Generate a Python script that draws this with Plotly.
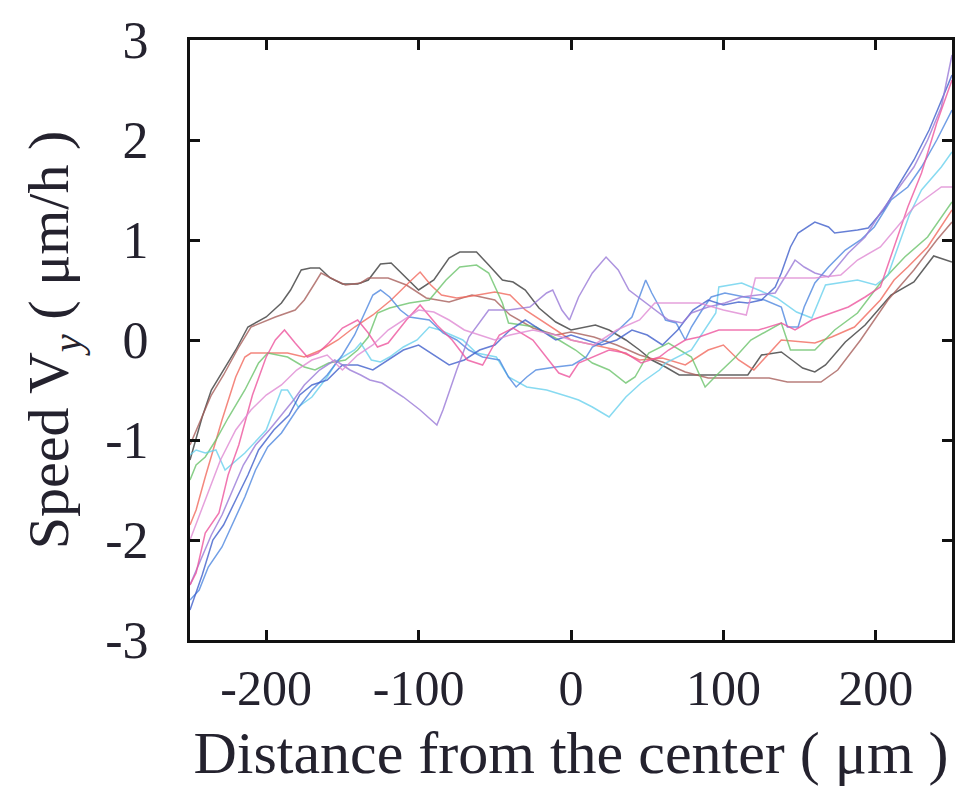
import plotly.graph_objects as go

# ---- data ----
black_x = [-250,-242,-236,-229,-220,-212,-200,-190,-184,-177,-171,-165,-158,-150,-140,-133,-125,-118,-110,-100,-90,-80,-73,-62,-54,-45,-38,-30,-21,-10,0,10,16,25,36,45,53,62,71,85,100,116,125,138,145,152,160,167,180,193,210,225,238,250]
black_y = [-1.2,-0.77,-0.5,-0.33,-0.1,0.13,0.23,0.37,0.5,0.7,0.72,0.72,0.62,0.56,0.56,0.6,0.76,0.77,0.65,0.5,0.6,0.82,0.88,0.88,0.75,0.6,0.58,0.5,0.32,0.18,0.1,0.13,0.15,0.1,0.0,-0.1,-0.2,-0.27,-0.35,-0.35,-0.35,-0.35,-0.15,-0.12,-0.2,-0.28,-0.32,-0.25,-0.02,0.15,0.45,0.58,0.84,0.78]

brown_x = [-250,-243,-236,-228,-218,-210,-194,-181,-175,-168,-164,-155,-148,-138,-133,-120,-108,-95,-80,-65,-50,-40,-25,-10,0,15,30,45,60,75,90,110,130,142,164,175,190,208,225,240,250]
brown_y = [-1.05,-0.8,-0.55,-0.35,-0.07,0.13,0.23,0.3,0.4,0.57,0.67,0.6,0.55,0.57,0.62,0.62,0.55,0.42,0.38,0.45,0.4,0.25,0.12,0.05,0.08,0.03,-0.05,-0.15,-0.22,-0.32,-0.38,-0.38,-0.38,-0.42,-0.42,-0.3,0.0,0.4,0.7,1.0,1.18]

red_x = [-250,-246,-240,-233,-229,-220,-214,-210,-186,-175,-164,-153,-142,-130,-118,-106,-99,-92,-85,-75,-65,-50,-40,-30,-15,0,15,30,45,60,75,90,100,110,120,138,160,171,186,195,203,212,221,234,250]
red_y = [-1.85,-1.7,-1.37,-1.0,-0.8,-0.37,-0.17,-0.13,-0.13,-0.17,-0.1,0.0,0.13,0.25,0.4,0.58,0.68,0.55,0.45,0.42,0.44,0.48,0.45,0.3,0.15,0.0,-0.05,-0.1,-0.2,-0.18,-0.25,-0.1,-0.05,-0.2,-0.3,0.0,-0.03,0.03,0.13,0.27,0.4,0.6,0.73,0.93,1.3]

green_x = [-250,-246,-240,-233,-225,-214,-205,-199,-186,-175,-168,-159,-148,-140,-133,-127,-119,-106,-93,-82,-73,-62,-54,-45,-41,-23,-8,3,14,25,36,42,51,64,79,88,97,108,118,130,138,144,160,173,188,203,219,234,250]
green_y = [-1.4,-1.25,-1.17,-1.0,-0.78,-0.5,-0.23,-0.13,-0.17,-0.27,-0.3,-0.23,-0.2,-0.1,0.03,0.27,0.32,0.37,0.4,0.6,0.73,0.75,0.67,0.37,0.17,0.13,0.0,-0.1,-0.23,-0.3,-0.43,-0.37,-0.13,-0.03,-0.17,-0.47,-0.33,-0.17,0.0,0.1,0.17,-0.1,-0.1,0.1,0.27,0.57,0.83,1.03,1.38]

cyan_x = [-250,-246,-240,-233,-227,-214,-200,-190,-186,-179,-170,-160,-153,-142,-138,-131,-125,-119,-110,-101,-93,-86,-71,-62,-49,-41,-29,-16,-1,5,14,25,36,46,58,62,79,95,97,112,123,135,148,158,167,188,200,208,215,222,230,243,250]
cyan_y = [-1.15,-1.1,-1.13,-1.1,-1.3,-1.13,-0.9,-0.5,-0.5,-0.67,-0.57,-0.37,-0.2,-0.1,-0.03,-0.2,-0.22,-0.17,-0.07,0.0,0.13,0.1,0.0,-0.13,-0.17,-0.37,-0.47,-0.5,-0.57,-0.6,-0.67,-0.77,-0.57,-0.43,-0.3,-0.23,-0.1,0.27,0.53,0.57,0.5,0.42,0.28,0.22,0.55,0.6,0.55,0.65,0.95,1.25,1.5,1.73,1.88]

blue_x = [-250,-244,-238,-229,-223,-214,-207,-199,-190,-180,-170,-160,-150,-142,-136,-130,-125,-119,-112,-106,-93,-84,-75,-67,-58,-47,-41,-36,-29,-23,-10,1,10,14,23,31,40,49,53,58,62,69,75,79,86,92,101,114,127,138,142,149,153,160,169,180,190,199,210,221,230,240,250]
blue_y = [-2.6,-2.5,-2.27,-2.07,-1.87,-1.57,-1.3,-1.07,-0.93,-0.7,-0.5,-0.35,-0.15,0.05,0.25,0.45,0.5,0.43,0.3,0.23,0.2,0.07,0.0,-0.1,-0.17,-0.2,-0.37,-0.47,-0.37,-0.3,-0.27,-0.25,-0.17,-0.07,0.0,0.1,0.23,0.6,0.47,0.33,0.2,0.17,0.0,0.13,0.3,0.43,0.47,0.43,0.4,0.33,0.13,0.13,0.33,0.57,0.73,0.9,1.0,1.13,1.4,1.53,1.73,2.0,2.3]

royal_x = [-250,-242,-235,-228,-220,-212,-205,-195,-185,-178,-170,-160,-150,-140,-130,-120,-110,-100,-90,-80,-70,-60,-50,-40,-30,-20,-10,0,10,20,30,40,50,60,70,80,90,100,110,116,125,134,138,144,149,160,169,173,188,195,205,215,225,235,243,250]
royal_y = [-2.7,-2.35,-2.0,-1.85,-1.6,-1.35,-1.1,-0.9,-0.75,-0.55,-0.45,-0.4,-0.25,-0.25,-0.3,-0.2,-0.1,-0.05,-0.15,-0.25,-0.2,-0.1,-0.05,0.1,0.2,0.1,0.0,0.05,0.0,-0.05,0.0,0.1,0.05,-0.05,0.1,0.3,0.4,0.35,0.38,0.37,0.4,0.53,0.67,0.93,1.07,1.18,1.13,1.07,1.1,1.12,1.3,1.55,1.8,2.1,2.4,2.65]

purple_x = [-250,-243,-236,-229,-222,-215,-207,-198,-190,-182,-175,-165,-155,-145,-138,-132,-124,-110,-99,-88,-84,-75,-67,-60,-54,-41,-27,-16,-12,-6,-1,5,14,23,31,38,44,53,64,73,79,90,101,112,123,134,142,147,153,160,169,182,193,203,214,225,234,243,250]
purple_y = [-2.45,-2.2,-1.95,-1.75,-1.5,-1.25,-1.05,-0.9,-0.75,-0.6,-0.45,-0.3,-0.2,-0.3,-0.35,-0.4,-0.43,-0.57,-0.7,-0.85,-0.7,-0.3,0.03,0.17,0.3,0.3,0.33,0.47,0.5,0.3,0.2,0.43,0.67,0.83,0.7,0.5,0.43,0.33,0.2,0.17,0.27,0.33,0.37,0.43,0.45,0.47,0.67,0.8,0.73,0.67,0.63,0.87,1.03,1.27,1.5,1.73,2.0,2.33,2.85]

pink_x = [-250,-246,-240,-231,-225,-218,-209,-200,-194,-188,-181,-173,-166,-159,-150,-140,-133,-127,-120,-108,-99,-88,-78,-68,-58,-47,-38,-25,-8,-1,5,14,25,36,46,58,64,75,84,97,108,123,138,147,158,171,182,193,203,212,221,230,240,250]
pink_y = [-2.45,-2.33,-1.93,-1.73,-1.35,-1.05,-0.55,-0.17,0.0,0.1,-0.03,-0.17,-0.13,-0.03,0.12,0.2,0.07,-0.07,-0.03,0.2,0.35,0.15,0.0,-0.2,-0.25,0.05,0.12,0.0,-0.33,-0.37,-0.23,-0.17,-0.1,-0.13,-0.23,-0.17,-0.1,0.0,0.03,0.1,0.1,0.1,0.17,0.1,0.2,0.27,0.33,0.43,0.53,0.93,1.33,1.67,2.17,2.6]

orchid_x = [-250,-240,-230,-220,-210,-200,-190,-180,-170,-160,-150,-140,-130,-120,-110,-100,-90,-80,-70,-60,-50,-40,-25,-10,0,15,30,45,55,70,84,100,115,121,140,160,177,188,203,214,225,234,243,250]
orchid_y = [-2.0,-1.6,-1.2,-0.9,-0.7,-0.55,-0.45,-0.3,-0.2,-0.15,-0.3,-0.15,-0.05,0.1,0.2,0.3,0.28,0.2,0.1,0.05,0.0,0.05,0.1,0.05,0.0,-0.05,0.1,0.2,0.37,0.37,0.37,0.3,0.25,0.62,0.62,0.62,0.65,0.8,0.93,1.13,1.33,1.43,1.53,1.53]

x_tick_vals = [-200, -100, 0, 100, 200]
x_tick_text = ["-200", "-100", "0", "100", "200"]
y_tick_vals = [-3, -2, -1, 0, 1, 2, 3]
y_tick_text = ["-3", "-2", "-1", "0", "1", "2", "3"]

series = [
    (black_x, black_y, "#3c3c3c"),
    (brown_x, brown_y, "#a8605c"),
    (red_x, red_y, "#f26a5e"),
    (green_x, green_y, "#6cc46c"),
    (cyan_x, cyan_y, "#6ad2ee"),
    (blue_x, blue_y, "#4f88e0"),
    (royal_x, royal_y, "#4060cc"),
    (purple_x, purple_y, "#9a7ad8"),
    (pink_x, pink_y, "#ee559e"),
    (orchid_x, orchid_y, "#e08ad4"),
]

fig = go.Figure()
for xs, ys, col in series:
    fig.add_trace(go.Scatter(x=xs, y=ys, mode="lines",
                             line=dict(color=col, width=1.5),
                             opacity=0.8, showlegend=False,
                             hoverinfo="skip"))

FONT = "Liberation Serif"
TXT = "#24222e"

axis_common = dict(
    showline=True, linewidth=3, linecolor="#111", mirror="ticks",
    ticks="inside", ticklen=10, tickwidth=3, tickcolor="#111",
    showgrid=False, zeroline=False,
)

fig.update_xaxes(range=[-250, 250], tickvals=x_tick_vals, ticktext=x_tick_text,
                 tickfont=dict(family=FONT, size=50, color=TXT),
                 title=dict(text="Distance from the center ( μm )",
                            font=dict(family=FONT, size=60, color=TXT), standoff=16),
                 ticklabelstandoff=2, **axis_common)
fig.update_yaxes(range=[-3, 3], tickvals=y_tick_vals, ticktext=y_tick_text,
                 tickfont=dict(family=FONT, size=52, color=TXT),
                 title=dict(text="Speed V<sub><i>y</i></sub> ( μm/h )",
                            font=dict(family=FONT, size=58, color=TXT), standoff=18),
                 ticklabelstandoff=28, **axis_common)

fig.update_layout(
    width=960, height=795,
    margin=dict(l=190, r=8, t=40, b=155, autoexpand=False),
    paper_bgcolor="white", plot_bgcolor="white",
)

fig.write_html("out.html")
